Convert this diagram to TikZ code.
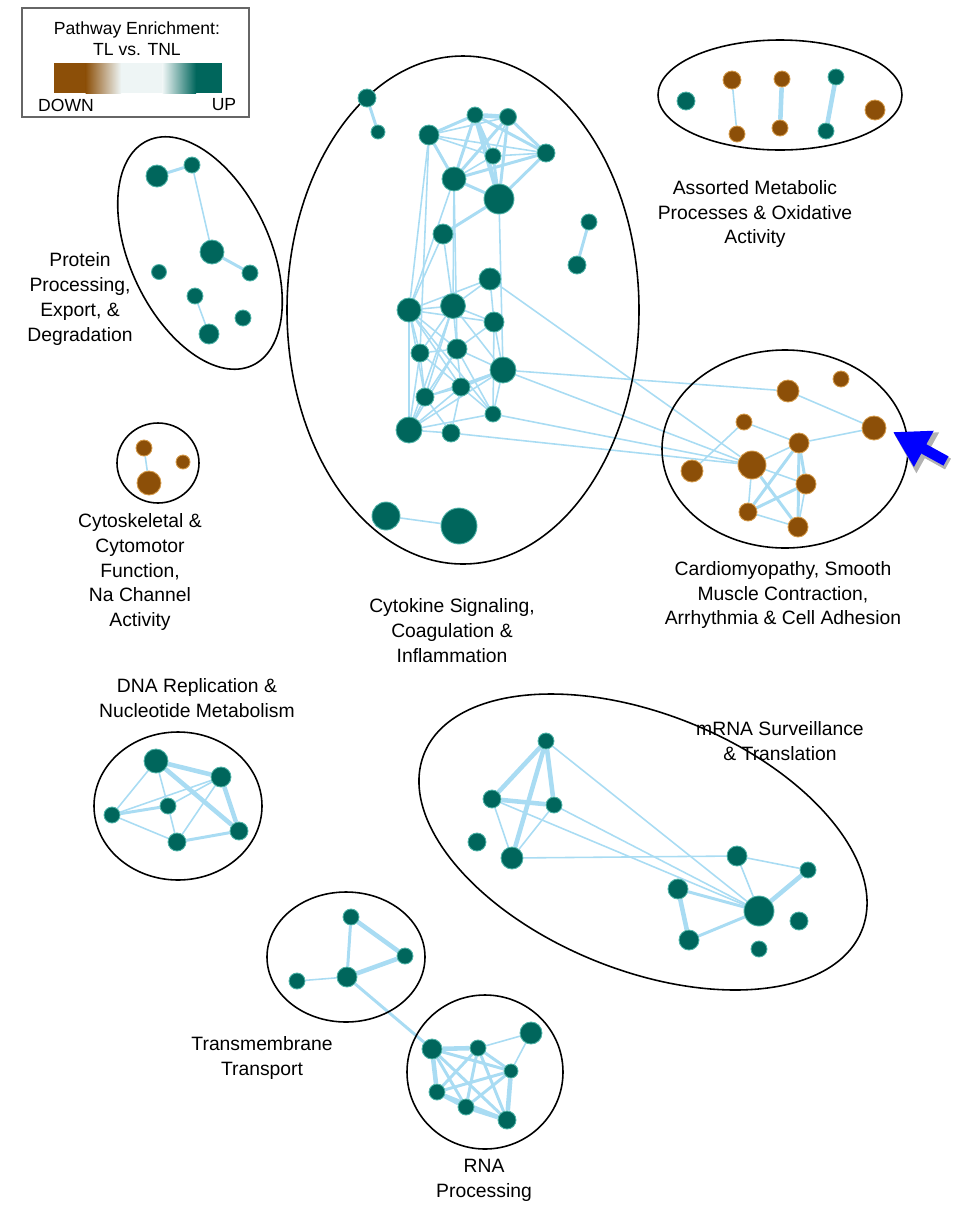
\documentclass[tikz,border=0pt]{standalone}
\usepackage{fontspec}
\setmainfont{Liberation Sans}
\usetikzlibrary{arrows.meta}
\definecolor{teal1}{HTML}{00665C}
\definecolor{tealrim}{HTML}{4FB3A8}
\definecolor{brown1}{HTML}{8C4F08}
\definecolor{brownrim}{HTML}{D49A4A}
\definecolor{edgeblue}{HTML}{A9DCF3}
\definecolor{midlight}{HTML}{EEF5F5}
\pgfdeclarelayer{bg}
\pgfsetlayers{bg,main}
\begin{document}
\begin{tikzpicture}[x=0.02cm,y=-0.02cm,
  tn/.style={circle, fill=teal1, draw=tealrim, line width=0.5pt, inner sep=0pt, minimum size=#1*0.04cm},
  bn/.style={circle, fill=brown1, draw=brownrim, line width=0.5pt, inner sep=0pt, minimum size=#1*0.04cm},
  ed/.style={draw=edgeblue, line width=0.9pt},
  edm/.style={draw=edgeblue, line width=1.7pt},
  edt/.style={draw=edgeblue, line width=2.6pt},
  grp/.style={draw=black, line width=0.9pt},
  lbl/.style={align=center, font=\fontsize{11}{14.2}\selectfont, inner sep=0pt},
  lgt/.style={font=\fontsize{10}{11}\selectfont, inner sep=0pt}
]
\useasboundingbox (0,0) rectangle (959,1208);

% ---------- legend ----------
\draw[draw=black!60, line width=0.8pt, fill=white] (22,8) rectangle (249,117);
\node[lgt] (lg1) at (137,30) {Pathway Enrichment:};
\node[lgt] (lg2) at (137,50) {TL vs. TNL};
\fill[brown1] (54,63) rectangle (86,93);
\shade[left color=brown1, right color=midlight] (85.5,63) rectangle (121,93);
\fill[midlight] (120.5,63) rectangle (163,93);
\shade[left color=midlight, right color=teal1] (162.5,63) rectangle (196,93);
\fill[teal1] (195.5,63) rectangle (222,93);
\node[lgt] (lgd) at (66,105) {DOWN};
\node[lgt] (lgu) at (224,105) {UP};

% ---------- group outlines ----------
\draw[grp] (463,310) ellipse [x radius=176, y radius=254];
\draw[grp, rotate around={25:(200,253)}] (200,253) ellipse [x radius=70, y radius=124];
\draw[grp] (158,463) ellipse [x radius=41, y radius=40];
\draw[grp] (780,95) ellipse [x radius=122, y radius=55];
\draw[grp] (785,449) ellipse [x radius=123, y radius=99];
\draw[grp] (178,806) ellipse [x radius=84, y radius=74];
\draw[grp, rotate around={-22:(643,842)}] (643,842) ellipse [x radius=236, y radius=128];
\draw[grp] (346,957) ellipse [x radius=79, y radius=65];
\draw[grp] (485,1072) ellipse [x radius=78, y radius=77];

% ---------- labels ----------
\node[lbl] (lp) at (80,299) {Protein\\Processing,\\Export, \&\\Degradation};
\node[lbl] (lc) at (140,572) {Cytoskeletal \&\\Cytomotor\\Function,\\Na Channel\\Activity};
\node[lbl] (lk) at (452,631) {Cytokine Signaling,\\Coagulation \&\\Inflammation};
\node[lbl] (lh) at (783,595) {Cardiomyopathy, Smooth\\Muscle Contraction,\\Arrhythmia \& Cell Adhesion};
\node[lbl] (lm) at (755,214) {Assorted Metabolic\\Processes \& Oxidative\\Activity};
\node[lbl] (ld) at (197,698) {DNA Replication \&\\Nucleotide Metabolism};
\node[lbl] (lr) at (780,741) {mRNA Surveillance\\\& Translation};
\node[lbl] (lt) at (262,1058) {Transmembrane\\Transport};
\node[lbl] (lq) at (484,1180) {RNA\\Processing};

% ---------- central cluster nodes ----------
\node[tn=9] (n1) at (367,98) {};
\node[tn=7] (n2) at (378,132) {};
\node[tn=10] (A) at (429,135) {};
\node[tn=8] (B) at (475,115) {};
\node[tn=8.5] (C) at (508,117) {};
\node[tn=8] (D) at (493,156) {};
\node[tn=9] (E) at (546,153) {};
\node[tn=12] (F) at (454,179) {};
\node[tn=15] (G) at (499,199) {};
\node[tn=10] (H) at (443,234) {};
\node[tn=11] (I) at (490,279) {};
\node[tn=12] (K) at (409,310) {};
\node[tn=12.5] (L) at (453,306) {};
\node[tn=10] (M) at (494,322) {};
\node[tn=9] (N) at (420,353) {};
\node[tn=10] (O) at (457,349) {};
\node[tn=13] (P) at (503,370) {};
\node[tn=9] (Q) at (461,387) {};
\node[tn=9] (R) at (425,397) {};
\node[tn=8] (S) at (493,414) {};
\node[tn=13] (T) at (409,430) {};
\node[tn=9] (U) at (451,433) {};
\node[tn=8] (pb) at (589,222) {};
\node[tn=9] (pa) at (577,265) {};
\node[tn=14] (ba) at (386,516) {};
\node[tn=18] (bb) at (459,526) {};

% ---------- cardio cluster ----------
\node[bn=11] (c1) at (788,391) {};
\node[bn=8] (c2) at (841,379) {};
\node[bn=8] (c3) at (744,422) {};
\node[bn=12] (c4) at (874,428) {};
\node[bn=10] (c5) at (799,443) {};
\node[bn=14] (c6) at (752,465) {};
\node[bn=11] (c7) at (692,471) {};
\node[bn=10] (c8) at (806,484) {};
\node[bn=9] (c9) at (748,512) {};
\node[bn=10] (c10) at (798,527) {};

% ---------- metabolic ----------
\node[tn=9] (m1) at (686,101) {};
\node[bn=9] (m2) at (732,80) {};
\node[bn=8] (m3) at (737,134) {};
\node[bn=8] (m4) at (782,79) {};
\node[bn=8] (m5) at (780,128) {};
\node[tn=8] (m6) at (836,77) {};
\node[tn=8] (m7) at (826,131) {};
\node[bn=10] (m8) at (875,110) {};

% ---------- protein ----------
\node[tn=11] (p1) at (157,176) {};
\node[tn=8] (p2) at (192,165) {};
\node[tn=12] (p3) at (212,252) {};
\node[tn=8] (p4) at (250,273) {};
\node[tn=7.5] (p5) at (159,272) {};
\node[tn=8] (p6) at (195,296) {};
\node[tn=8] (p7) at (243,318) {};
\node[tn=10] (p8) at (209,334) {};

% ---------- cytoskeletal ----------
\node[bn=8] (k1) at (144,448) {};
\node[bn=7] (k2) at (183,462) {};
\node[bn=12] (k3) at (149,483) {};

% ---------- DNA ----------
\node[tn=12] (d1) at (156,761) {};
\node[tn=10] (d2) at (221,777) {};
\node[tn=8] (d3) at (168,806) {};
\node[tn=8] (d4) at (112,815) {};
\node[tn=9] (d5) at (177,842) {};
\node[tn=9] (d6) at (239,831) {};

% ---------- mRNA ----------
\node[tn=8] (r1) at (546,741) {};
\node[tn=9] (r2) at (492,799) {};
\node[tn=8] (r3) at (554,805) {};
\node[tn=9] (r4) at (477,842) {};
\node[tn=11] (r5) at (512,858) {};
\node[tn=10] (r6) at (737,856) {};
\node[tn=8] (r7) at (808,870) {};
\node[tn=10] (r8) at (678,889) {};
\node[tn=15] (r9) at (759,911) {};
\node[tn=9] (r10) at (799,921) {};
\node[tn=10] (r11) at (689,940) {};
\node[tn=8] (r12) at (759,949) {};

% ---------- transmembrane ----------
\node[tn=8] (t1) at (351,917) {};
\node[tn=8] (t2) at (405,956) {};
\node[tn=10] (t3) at (347,977) {};
\node[tn=8] (t4) at (297,981) {};

% ---------- RNA processing ----------
\node[tn=10] (q1) at (432,1049) {};
\node[tn=8] (q2) at (478,1048) {};
\node[tn=11] (q3) at (531,1033) {};
\node[tn=7] (q4) at (511,1071) {};
\node[tn=8] (q5) at (437,1092) {};
\node[tn=8] (q6) at (466,1107) {};
\node[tn=9] (q7) at (507,1120) {};

% ---------- blue arrow ----------
\coordinate (arrtail) at (946,461);
\coordinate (arrtip) at (893,432);
\coordinate (arrtailS) at (948,464);
\coordinate (arrtipS) at (894,434);
\draw[black!30, line width=7pt, -{Triangle[length=22pt, width=25pt]}] (arrtailS) -- (arrtipS);
\draw[blue, line width=6pt, -{Triangle[length=20pt, width=22pt]}] (arrtail) -- (arrtip);

% ---------- edges ----------
\begin{pgfonlayer}{bg}
\path[edm] (n1) -- (n2);
\path[edm] (A) -- (B); \path[ed] (A) -- (C); \path[ed] (A) -- (D); \path[ed] (A) -- (E); \path[edm] (A) -- (F);
\path[edt] (B) -- (C); \path[edm] (B) -- (D); \path[edm] (B) -- (E); \path[edm] (B) -- (F); \path[edt] (B) -- (G);
\path[ed] (C) -- (D); \path[edm] (C) -- (E); \path[edm] (C) -- (F); \path[edm] (C) -- (G);
\path[ed] (D) -- (E); \path[ed] (D) -- (F); \path[edm] (D) -- (G);
\path[edm] (E) -- (F); \path[edm] (E) -- (G); \path[edm] (F) -- (G); \path[edm] (G) -- (H);
\path[ed] (A) -- (K); \path[ed] (A) -- (N); \path[ed] (H) -- (K); \path[ed] (H) -- (L);
\path[ed] (F) -- (K); \path[ed] (F) -- (L); \path[ed] (F) -- (O); \path[ed] (G) -- (P);
\path[ed] (I) -- (K); \path[ed] (I) -- (L); \path[ed] (I) -- (M);
\path[ed] (K) -- (L); \path[ed] (K) -- (M); \path[ed] (K) -- (N); \path[ed] (K) -- (O); \path[ed] (K) -- (R);
\path[edm] (K) -- (T); \path[ed] (K) -- (Q); \path[ed] (K) -- (S);
\path[ed] (L) -- (M); \path[ed] (L) -- (N); \path[ed] (L) -- (O); \path[ed] (L) -- (R); \path[ed] (L) -- (T); \path[ed] (L) -- (P);
\path[ed] (M) -- (O); \path[ed] (M) -- (P); \path[ed] (M) -- (S);
\path[ed] (N) -- (O); \path[ed] (N) -- (R); \path[ed] (N) -- (T); \path[ed] (N) -- (Q);
\path[ed] (O) -- (P); \path[ed] (O) -- (Q); \path[ed] (O) -- (R); \path[ed] (O) -- (T); \path[ed] (O) -- (S);
\path[edm] (P) -- (Q); \path[ed] (P) -- (R); \path[ed] (P) -- (T); \path[ed] (P) -- (S);
\path[ed] (Q) -- (R); \path[ed] (Q) -- (T); \path[ed] (Q) -- (S); \path[ed] (Q) -- (U);
\path[ed] (R) -- (T); \path[ed] (R) -- (U); \path[ed] (T) -- (U); \path[ed] (T) -- (S);
\path[edm] (pa) -- (pb);
\path[ed] (ba) -- (bb);
% cross links
\path[ed] (I) -- (c6); \path[ed] (P) -- (c1); \path[ed] (P) -- (c6); \path[ed] (S) -- (c6); \path[ed] (U) -- (c6);
% cardio
\path[ed] (c1) -- (c4); \path[ed] (c4) -- (c5); \path[ed] (c3) -- (c5); \path[ed] (c3) -- (c7);
\path[ed] (c6) -- (c5); \path[ed] (c6) -- (c8); \path[ed] (c6) -- (c9); \path[edm] (c6) -- (c10);
\path[edm] (c5) -- (c9); \path[edm] (c5) -- (c8); \path[edm] (c5) -- (c10);
\path[edm] (c8) -- (c9); \path[ed] (c8) -- (c10); \path[ed] (c9) -- (c10);
% metabolic
\path[ed] (m2) -- (m3); \path[edt] (m4) -- (m5); \path[edt] (m6) -- (m7);
% protein
\path[edm] (p1) -- (p2); \path[ed] (p2) -- (p3); \path[edm] (p3) -- (p4); \path[ed] (p6) -- (p8);
% cyto
\path[ed] (k1) -- (k3);
% DNA
\path[edt] (d1) -- (d2); \path[ed] (d1) -- (d4); \path[ed] (d1) -- (d3); \path[edt] (d1) -- (d6);
\path[ed] (d2) -- (d4); \path[ed] (d2) -- (d3); \path[ed] (d2) -- (d5); \path[edt] (d2) -- (d6);
\path[edm] (d3) -- (d4); \path[ed] (d3) -- (d5); \path[ed] (d4) -- (d5); \path[edm] (d5) -- (d6);
% mRNA
\path[edt] (r1) -- (r2); \path[edt] (r1) -- (r3); \path[edt] (r1) -- (r5); \path[ed] (r1) -- (r9);
\path[edt] (r2) -- (r3); \path[ed] (r2) -- (r5); \path[ed] (r2) -- (r9); \path[ed] (r3) -- (r5); \path[ed] (r3) -- (r9);
\path[ed] (r5) -- (r6); \path[ed] (r6) -- (r9); \path[ed] (r6) -- (r7); \path[edt] (r7) -- (r9);
\path[edm] (r8) -- (r9); \path[edt] (r8) -- (r11); \path[edm] (r11) -- (r9);
% transmembrane
\path[edt] (t1) -- (t2); \path[edm] (t1) -- (t3); \path[edt] (t2) -- (t3); \path[ed] (t3) -- (t4); \path[edm] (t3) -- (q1);
% RNA processing
\path[edt] (q1) -- (q2); \path[edm] (q1) -- (q4); \path[edt] (q1) -- (q5); \path[edm] (q1) -- (q6); \path[edm] (q1) -- (q7);
\path[ed] (q2) -- (q3); \path[edm] (q2) -- (q4); \path[edm] (q2) -- (q5); \path[edm] (q2) -- (q6); \path[edm] (q2) -- (q7);
\path[ed] (q3) -- (q4); \path[edm] (q4) -- (q5); \path[edm] (q4) -- (q6); \path[edt] (q4) -- (q7);
\path[edt] (q5) -- (q6); \path[edm] (q5) -- (q7); \path[edt] (q6) -- (q7);
\end{pgfonlayer}
\end{tikzpicture}
\end{document}
